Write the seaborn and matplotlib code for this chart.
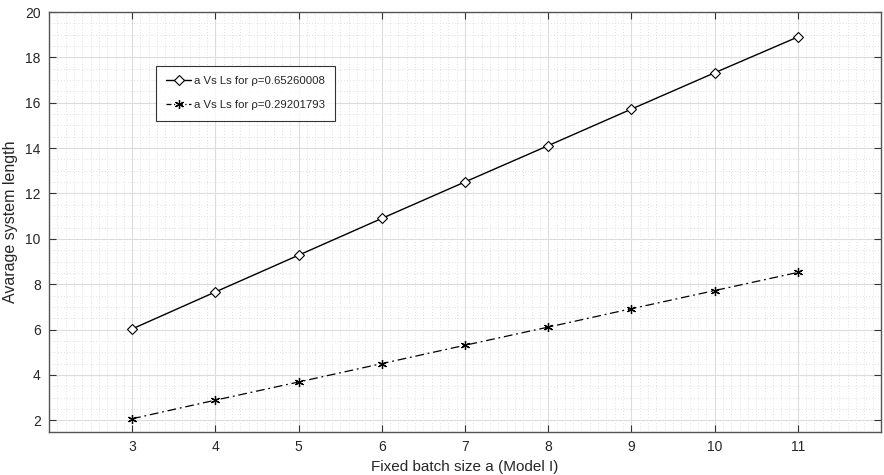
import numpy as np
import pandas as pd
import matplotlib.pyplot as plt
from matplotlib.ticker import MultipleLocator
import seaborn as sns

# data
batch_size = [3, 4, 5, 6, 7, 8, 9, 10, 11]
ls_high = [6.03, 7.66, 9.28, 10.90, 12.51, 14.11, 15.72, 17.32, 18.90]
ls_low = [2.07, 2.89, 3.69, 4.50, 5.31, 6.11, 6.92, 7.72, 8.52]
labels = ["a Vs Ls for \u03c1=0.65260008", "a Vs Ls for \u03c1=0.29201793"]

sns.set_style("ticks")
plt.rcParams['font.family'] = ['Liberation Sans', 'DejaVu Sans']

df = pd.DataFrame({
    "a": batch_size * 2,
    "Ls": ls_high + ls_low,
    "series": [labels[0]] * len(batch_size) + [labels[1]] * len(batch_size),
})

fig = plt.figure(figsize=(8.84, 4.75), dpi=100)
ax = fig.add_axes([0.0554, 0.0912, 0.9412, 0.8835])

sns.lineplot(data=df[df["series"] == labels[0]], x="a", y="Ls", ax=ax,
             color="black", lw=1.0, marker="D", markersize=5.5,
             markerfacecolor="white", markeredgecolor="black", markeredgewidth=0.8,
             label=labels[0])
sns.lineplot(data=df[df["series"] == labels[1]], x="a", y="Ls", ax=ax,
             color="black", lw=0.9, marker=(6, 2, 0), markersize=6.5,
             markerfacecolor="black", markeredgecolor="black",
             markeredgewidth=0.9, label=labels[1])
dash_dot = [7, 3, 1.5, 3]
ax.lines[1].set_dashes(dash_dot)

ax.set_xlim(2, 12)
ax.set_ylim(1.5, 20)
ax.set_xticks(range(3, 12))
ax.set_yticks(range(2, 21, 2))
ax.xaxis.set_minor_locator(MultipleLocator(0.1))
ax.yaxis.set_minor_locator(MultipleLocator(0.5))

ax.grid(which="major", color="#dcdcdc", lw=0.8, ls="-")
ax.grid(which="minor", color="#d6d6d6", lw=0.6, ls=(0, (1, 2.5)))
ax.set_axisbelow(True)

ax.tick_params(which="major", direction="in", length=5, width=0.8, color="#333333",
               top=True, right=True, labelsize=10, pad=6)
ax.tick_params(which="minor", length=0, top=True, right=True)
for s in ax.spines.values():
    s.set_color("#555555")
    s.set_linewidth(1.0)

ax.set_xlabel("Fixed batch size a (Model I)", fontsize=11, labelpad=4)
ax.set_ylabel("Avarage system length", fontsize=11.5, labelpad=5)

leg = ax.legend(loc="upper left", bbox_to_anchor=(0.122, 0.885), fontsize=8.2,
                frameon=True, fancybox=False, edgecolor="black", handlelength=2.2,
                handletextpad=0.2, labelspacing=1.25, borderpad=0.9)
leg.get_frame().set_linewidth(0.8)
leg.get_lines()[1].set_dashes([4, 2, 1, 2])

fig.savefig("out.png", dpi=100)
